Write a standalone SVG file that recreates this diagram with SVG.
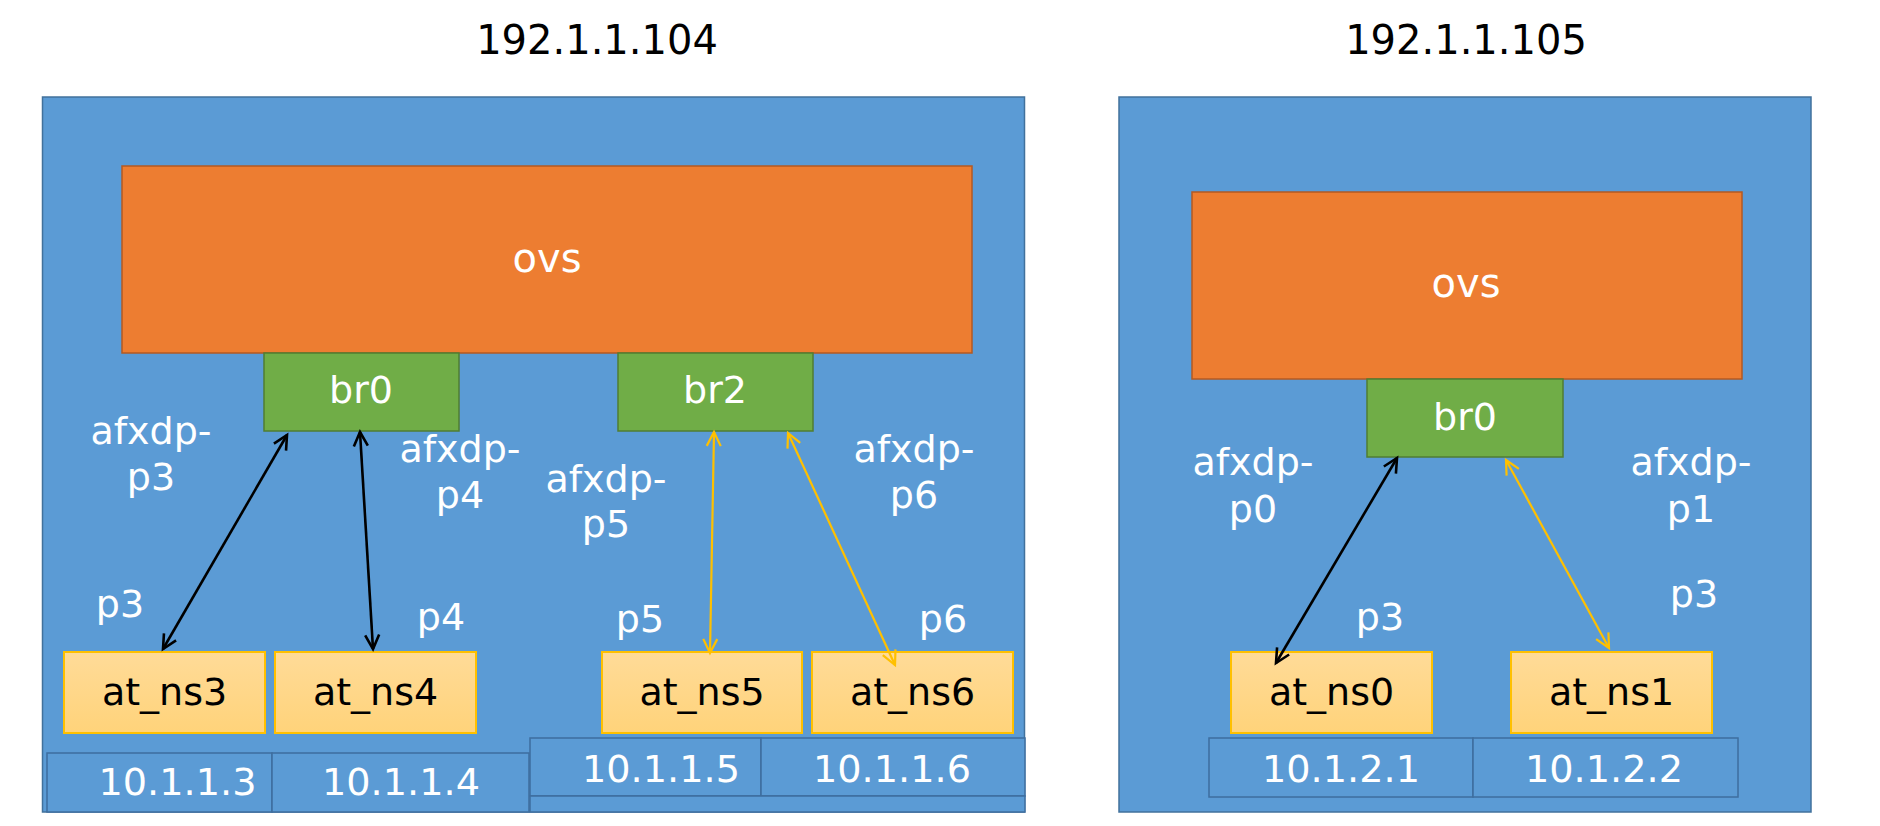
<svg xmlns="http://www.w3.org/2000/svg" width="1880" height="826" viewBox="0 0 1880 826">
<style>
  text { font-family: "DejaVu Sans", "Liberation Sans", sans-serif; text-anchor: middle; }
  .host { fill: #5B9BD5; stroke: #41719C; stroke-width: 1.5; }
  .ovs { fill: #ED7D31; stroke: #B45A22; stroke-width: 1.5; }
  .br { fill: #70AD47; stroke: #507E32; stroke-width: 1.5; }
  .ns { fill: url(#nsGrad); stroke: #FFC000; stroke-width: 2; }
  .cell { fill: #5B9BD5; stroke: #3E6E9E; stroke-width: 1.5; }
  .title { font-size: 40px; fill: #000; }
  .big { font-size: 40px; fill: #fff; }
  .lbl { font-size: 38px; fill: #fff; }
  .nst { font-size: 38px; fill: #000; }
  .ip { font-size: 37px; fill: #fff; }
  .blk { stroke: #000; stroke-width: 2.6; fill: none; marker-start: url(#hb); marker-end: url(#hb); }
  .yel { stroke: #FFC000; stroke-width: 2.2; fill: none; marker-start: url(#hy); marker-end: url(#hy); }
</style>
<defs>
  <linearGradient id="nsGrad" x1="0" y1="0" x2="0" y2="1">
    <stop offset="0" stop-color="#FFDB98"/>
    <stop offset="1" stop-color="#FFD37A"/>
  </linearGradient>
  <marker id="hb" markerUnits="userSpaceOnUse" markerWidth="20" markerHeight="20" viewBox="-16 -10 20 20" refX="0" refY="0" orient="auto-start-reverse">
    <path d="M-14,-7 L0,0 L-14,7" fill="none" stroke="#000" stroke-width="2.6"/>
  </marker>
  <marker id="hy" markerUnits="userSpaceOnUse" markerWidth="20" markerHeight="20" viewBox="-16 -10 20 20" refX="0" refY="0" orient="auto-start-reverse">
    <path d="M-14,-7 L0,0 L-14,7" fill="none" stroke="#FFC000" stroke-width="2.2"/>
  </marker>
</defs>
<rect width="1880" height="826" fill="#fff"/>

<g id="host104">
  <text class="title" x="597" y="54">192.1.1.104</text>
  <rect class="host" x="42.5" y="97" width="982" height="715"/>
</g>
<g id="host105">
  <text class="title" x="1466" y="54">192.1.1.105</text>
  <rect class="host" x="1119" y="97" width="692" height="715"/>
</g>

<g id="ovs104">
  <rect class="ovs" x="122" y="166" width="850" height="187"/>
  <text class="big" x="547" y="272">ovs</text>
</g>
<g id="ovs105">
  <rect class="ovs" x="1192" y="192" width="550" height="187"/>
  <text class="big" x="1466" y="297">ovs</text>
</g>

<g id="br0-104">
  <rect class="br" x="264" y="353" width="195" height="78"/>
  <text class="lbl" x="361" y="403">br0</text>
</g>
<g id="br2-104">
  <rect class="br" x="618" y="353" width="195" height="78"/>
  <text class="lbl" x="715" y="403">br2</text>
</g>
<g id="br0-105">
  <rect class="br" x="1367" y="379" width="196" height="78"/>
  <text class="lbl" x="1465" y="430">br0</text>
</g>

<g id="at_ns3">
  <rect class="ns" x="64" y="652" width="201" height="81"/>
  <text class="nst" x="164.5" y="705">at_ns3</text>
</g>
<g id="at_ns4">
  <rect class="ns" x="275" y="652" width="201" height="81"/>
  <text class="nst" x="375.5" y="705">at_ns4</text>
</g>
<g id="at_ns5">
  <rect class="ns" x="602" y="652" width="200" height="81"/>
  <text class="nst" x="702" y="705">at_ns5</text>
</g>
<g id="at_ns6">
  <rect class="ns" x="812" y="652" width="201" height="81"/>
  <text class="nst" x="912.5" y="705">at_ns6</text>
</g>
<g id="at_ns0">
  <rect class="ns" x="1231" y="652" width="201" height="81"/>
  <text class="nst" x="1331.5" y="705">at_ns0</text>
</g>
<g id="at_ns1">
  <rect class="ns" x="1511" y="652" width="201" height="81"/>
  <text class="nst" x="1611.5" y="705">at_ns1</text>
</g>

<g id="ips-104a">
  <rect class="cell" x="47" y="753" width="225" height="59"/>
  <rect class="cell" x="272" y="753" width="257" height="59"/>
  <text class="ip" x="177.5" y="795" textLength="158" lengthAdjust="spacingAndGlyphs">10.1.1.3</text>
  <text class="ip" x="401" y="795" textLength="158" lengthAdjust="spacingAndGlyphs">10.1.1.4</text>
</g>
<g id="ips-104b">
  <rect class="cell" x="530" y="738" width="231" height="58"/>
  <rect class="cell" x="761" y="738" width="264" height="58"/>
  <rect class="cell" x="530" y="796" width="495" height="16"/>
  <text class="ip" x="661" y="782" textLength="158" lengthAdjust="spacingAndGlyphs">10.1.1.5</text>
  <text class="ip" x="892" y="782" textLength="158" lengthAdjust="spacingAndGlyphs">10.1.1.6</text>
</g>
<g id="ips-105">
  <rect class="cell" x="1209" y="738" width="264" height="59"/>
  <rect class="cell" x="1473" y="738" width="265" height="59"/>
  <text class="ip" x="1341" y="782" textLength="158" lengthAdjust="spacingAndGlyphs">10.1.2.1</text>
  <text class="ip" x="1604" y="782" textLength="158" lengthAdjust="spacingAndGlyphs">10.1.2.2</text>
</g>

<g id="labels">
  <text class="lbl" x="151" y="444">afxdp-</text>
  <text class="lbl" x="151" y="490">p3</text>
  <text class="lbl" x="460" y="462">afxdp-</text>
  <text class="lbl" x="460" y="508">p4</text>
  <text class="lbl" x="606" y="492">afxdp-</text>
  <text class="lbl" x="606" y="537">p5</text>
  <text class="lbl" x="914" y="462">afxdp-</text>
  <text class="lbl" x="914" y="508">p6</text>
  <text class="lbl" x="1253" y="475">afxdp-</text>
  <text class="lbl" x="1253" y="522">p0</text>
  <text class="lbl" x="1691" y="475">afxdp-</text>
  <text class="lbl" x="1691" y="522">p1</text>
  <text class="lbl" x="120" y="617">p3</text>
  <text class="lbl" x="441" y="630">p4</text>
  <text class="lbl" x="640" y="632">p5</text>
  <text class="lbl" x="943" y="632">p6</text>
  <text class="lbl" x="1380" y="630">p3</text>
  <text class="lbl" x="1694" y="607">p3</text>
</g>

<g id="connectors">
  <line class="blk" x1="287" y1="435" x2="163" y2="649"/>
  <line class="blk" x1="360" y1="432" x2="373" y2="649"/>
  <line class="yel" x1="714" y1="432" x2="710" y2="653"/>
  <line class="yel" x1="788" y1="433" x2="895" y2="665"/>
  <line class="blk" x1="1397" y1="458" x2="1276" y2="663"/>
  <line class="yel" x1="1506" y1="460" x2="1609" y2="648"/>
</g>
</svg>
